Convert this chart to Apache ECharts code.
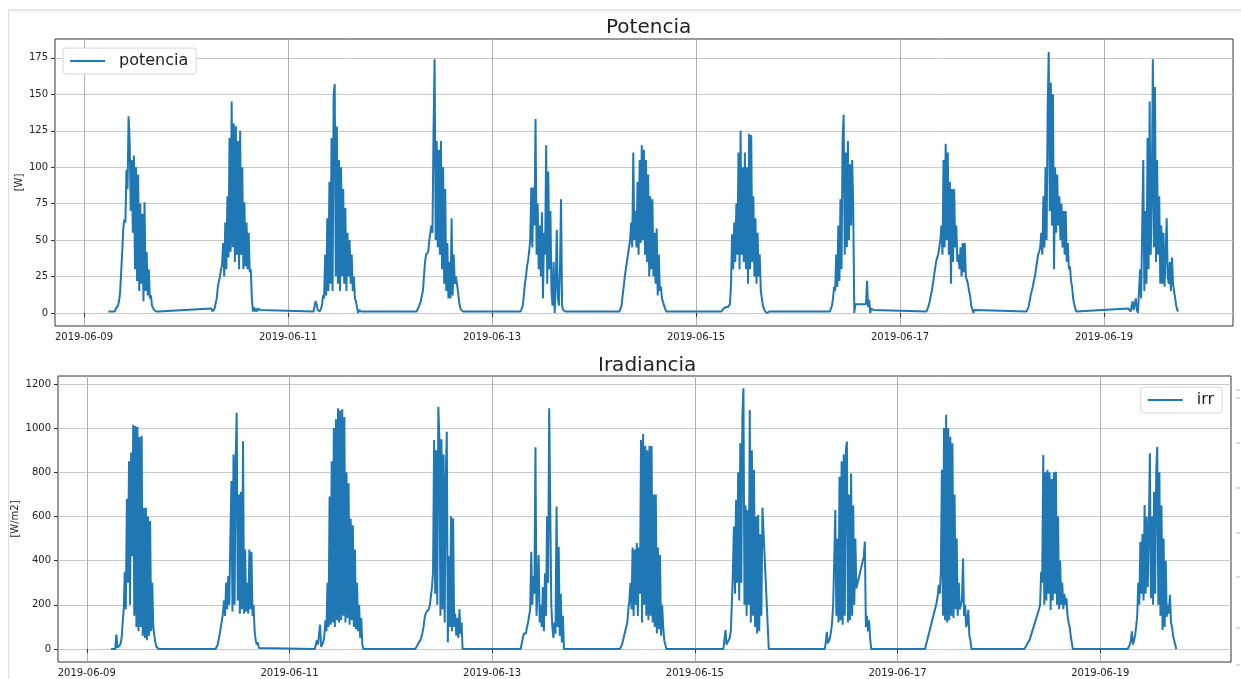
<!DOCTYPE html>
<html>
<head>
<meta charset="utf-8">
<script src="https://cdn.jsdelivr.net/npm/echarts@6/dist/echarts.min.js"></script>
<style>
html, body { margin: 0; padding: 0; background: #fff; }
#marco { position: absolute; left: 8px; top: 9px; width: 1233px; height: 670px;
  border-left: 1px solid #d3e3f2; box-shadow: inset 0 3px 3px -1px rgba(0,0,0,0.12); }
#chart { position: absolute; left: 0; top: 0; width: 1241px; height: 679px; }
</style>
</head>
<body>
<div id="marco"></div>
<div id="chart"></div>
<script>
// dias del registro y etiquetas del eje x
const fechas = ['2019-06-09','2019-06-10','2019-06-11','2019-06-12','2019-06-13','2019-06-14',
                '2019-06-15','2019-06-16','2019-06-17','2019-06-18','2019-06-19'];
const etiquetasX = ['2019-06-09','2019-06-11','2019-06-13','2019-06-15','2019-06-17','2019-06-19'];
const ticksPot = [0, 25, 50, 75, 100, 125, 150, 175];
const ticksIrr = [0, 200, 400, 600, 800, 1000, 1200];

// muestras cada 15 min; hora de la primera muestra de cada dia
const paso = 0.25;
const potInicio = [5.75, 6.0, 6.0, 6.25, 5.75, 6.0, 6.0, 6.0, 6.25, 5.75, 5.75];
const irrInicio = [5.75, 6.5, 6.0, 5.75, 6.75, 6.25, 6.75, 6.75, 6.5, 6.0, 6.5];

// potencia [W] (null = sin dato)
const pot09 = [1,1,1,1,1,2,1,3,4,5,8,14,28,42,58,64,62,98,85,135,118,70,105,55,108,30,100,22,95,15,75,20,68,8,76,15,42,12,30,10,12,5,4,2,1,1,1,1];
const pot10 = [3,1,0,3,7,10,18,22,25,30,33,48,25,62,30,80,38,120,42,145,45,130,35,128,40,118,30,125,40,100,30,76,32,62,30,55,28,30,10,1,4,1,3,1,3,3,2,2];
const pot11 = [1,2,8,6,2,1,1,1,5,12,10,40,12,65,15,90,20,120,15,150,157,25,128,20,105,15,100,25,85,20,72,15,55,25,50,20,40,15,25,10,8,4,0,2,1,1,1];
const pot12 = [1,2,4,5,8,12,15,25,35,40,41,42,50,55,60,55,125,174,50,118,45,112,40,118,30,100,20,85,15,48,10,35,10,65,12,40,20,25,20,15,8,4,2,1,1,1];
const pot13 = [1,1,1,1,1,1,5,12,20,25,32,36,42,50,86,45,86,60,133,40,75,30,60,25,69,10,55,40,115,20,97,30,70,15,5,35,0,20,57,10,5,30,78,5,2,1,1];
const pot14 = [1,3,5,12,18,25,30,35,40,45,50,62,45,110,50,70,45,90,40,105,48,115,50,112,40,105,35,95,25,80,30,78,25,55,20,58,12,40,15,18,10,10,5,3,1,1,1];
const pot15 = [1,1,3,3,4,5,4,5,6,20,54,30,62,35,75,40,110,30,125,40,100,35,110,30,100,20,123,30,122,35,80,25,65,20,55,25,40,15,10,5,3,1,1,0,1,1,1];
const pot16 = [1,2,1,1,1,1,1,3,5,10,18,15,40,18,60,22,78,30,120,136,40,110,45,118,50,102,60,105,73,0,6,null,null,null,null,null,null,null,null,null,6,22,4,9,0,3,3,2];
const pot17 = [1,2,5,8,12,15,20,25,30,35,38,40,45,50,60,40,105,45,116,50,110,40,90,20,85,35,85,45,60,35,40,30,45,25,48,28,48,25,25,20,15,12,5,3,0,2,1];
const pot18 = [1,2,4,8,12,15,18,22,25,30,35,40,42,45,55,40,80,45,100,50,140,179,70,158,60,150,30,100,55,95,60,80,50,75,45,70,40,70,35,48,30,32,22,18,10,6,3,1];
const pot19 = [3,2,1,1,8,2,3,10,2,0,15,30,10,60,105,15,70,20,120,30,145,40,80,174,45,155,35,105,40,80,20,60,20,55,18,40,65,25,20,35,15,38,20,15,10,5,2,1];

// irradiancia [W/m2]
const irr09 = [0,0,0,0,0,65,5,8,15,25,50,120,180,350,180,680,300,850,200,890,420,1015,150,1010,100,1005,80,960,100,965,60,640,50,640,40,600,60,580,80,300,100,60,30,10,3,0,0];
const irr10 = [0,0,20,45,70,100,130,160,220,150,300,180,330,200,500,760,170,880,200,850,1070,220,700,160,712,180,940,160,450,170,300,160,450,180,440,150,200,80,40,20,30,5,0];
const irr11 = [0,0,40,20,15,110,10,20,30,60,130,80,300,100,690,110,850,120,1000,100,1040,130,1090,120,1080,130,1085,150,1050,120,800,140,750,110,590,130,560,100,450,90,300,80,200,50,140,20,0];
const irr12 = [0,5,15,25,30,40,55,75,100,140,160,170,175,180,200,240,280,350,946,250,900,200,1097,950,150,950,180,880,120,760,984,30,420,100,600,80,592,100,160,60,140,50,180,70,120,0];
const irr13 = [0,0,50,70,70,70,100,120,150,180,440,200,330,250,913,150,275,425,120,200,100,280,80,342,150,600,300,1090,645,200,100,50,120,70,645,100,463,60,250,30,150,0];
const irr14 = [0,10,20,40,60,80,100,120,180,220,300,180,460,150,450,200,480,150,460,250,946,120,973,200,920,150,900,130,920,150,919,120,700,100,700,70,460,90,425,60,200,100,40,20,0];
const irr15 = [0,0,86,20,30,40,50,80,200,350,554,250,675,300,800,220,931,300,1052,1180,200,650,150,629,200,1082,120,900,150,811,100,600,70,607,80,520,150,640,null,null,null,null,null,0];
const irr16 = [0,30,78,25,30,50,80,120,200,400,629,150,500,120,780,130,850,110,880,150,900,939,120,700,130,795,150,650,200,500,275,null,null,null,null,null,null,418,486,100,150,80,130,50,0];
const irr17 = [0,5,null,null,null,null,null,null,null,null,190,210,240,290,250,350,811,150,1000,130,1060,120,1000,130,961,150,931,140,700,180,500,150,300,180,200,220,410,150,200,100,120,177,60,40,0];
const irr18 = [0,0,15,25,30,40,null,null,null,null,null,null,null,null,180,200,350,300,878,200,800,220,811,250,800,177,770,220,800,250,803,200,600,180,400,200,300,180,250,200,230,150,120,100,60,30,0];
const irr19 = [0,0,20,40,80,20,40,60,100,150,300,200,486,250,520,220,652,250,600,280,540,886,230,600,200,712,250,800,916,200,800,150,650,86,500,100,400,146,200,160,245,120,100,60,40,20,0];

const potDias = [pot09, pot10, pot11, pot12, pot13, pot14, pot15, pot16, pot17, pot18, pot19];
const irrDias = [irr09, irr10, irr11, irr12, irr13, irr14, irr15, irr16, irr17, irr18, irr19];

const DIA = 86400000;
const t0 = Date.parse('2019-06-09T00:00:00Z');
const fuente = 'DejaVu Sans';

function serie(dias, inicios) {
    const out = [];
    dias.forEach((vals, k) => {
        const base = Date.parse(fechas[k] + 'T00:00:00Z');
        vals.forEach((v, i) => {
            if (v === null) return;
            out.push([base + (inicios[k] + i * paso) * 3600000, v]);
        });
    });
    return out;
}

const ticksX = etiquetasX.map(f => Date.parse(f + 'T00:00:00Z'));

const ejeX = (grid, hasta) => ({
    type: 'value',
    gridIndex: grid,
    min: t0 - 0.284 * DIA,
    max: t0 + hasta * DIA,
    axisLine: {show: false},
    axisTick: {show: true, length: 4, customValues: ticksX, lineStyle: {color: '#333'}},
    axisLabel: {
        customValues: ticksX, margin: 6, fontSize: 10, color: '#222', fontFamily: fuente,
        formatter: v => new Date(v).toISOString().slice(0, 10)
    },
    splitLine: {show: true, lineStyle: {color: '#b0b0b0', width: 1}}
});

const ejeY = (grid, min, max, ticks, nombre, gap) => ({
    type: 'value',
    gridIndex: grid,
    min: min,
    max: max,
    name: nombre,
    nameLocation: 'middle',
    nameGap: gap,
    nameRotate: 90,
    nameMoveOverlap: false,
    nameTextStyle: {fontSize: 10, color: '#222', fontFamily: fuente},
    axisLine: {show: false},
    axisTick: {show: true, length: 4, customValues: ticks, lineStyle: {color: '#333'}},
    axisLabel: {customValues: ticks, margin: 7, fontSize: 10, color: '#222', fontFamily: fuente,
        formatter: v => String(v)},
    splitLine: {show: true, lineStyle: {color: '#c8c8c8', width: 1}}
});

const leyenda = (nombre, pos) => Object.assign({
    data: [nombre],
    icon: 'rect',
    itemWidth: 35,
    itemHeight: 2,
    padding: [5, 8, 5, 7],
    backgroundColor: '#fff',
    borderColor: '#d6d6d6',
    borderWidth: 1,
    borderRadius: 3,
    textStyle: {fontSize: 16, color: '#222', fontFamily: fuente, padding: [0, 0, 0, 9]}
}, pos);

const lineaSerie = (nombre, idx, datos) => ({
    name: nombre,
    type: 'line',
    xAxisIndex: idx,
    yAxisIndex: idx,
    data: datos,
    showSymbol: false,
    lineStyle: {width: 2, color: '#1f77b4'},
    itemStyle: {color: '#1f77b4'},
    animation: false
});

const chart = echarts.init(document.getElementById('chart'));
chart.setOption({
    animation: false,
    title: [
        {text: 'Potencia', left: 601, top: 13, textStyle: {fontSize: 20, fontWeight: 'normal', color: '#222', fontFamily: fuente}},
        {text: 'Iradiancia', left: 593, top: 351, textStyle: {fontSize: 20, fontWeight: 'normal', color: '#222', fontFamily: fuente}}
    ],
    legend: [
        leyenda('potencia', {left: 63, top: 48}),
        leyenda('irr', {right: 19, top: 387})
    ],
    grid: [
        {left: 55, right: 8, top: 39, height: 287, outerBoundsMode: 'none', show: true, borderColor: '#333', borderWidth: 1, backgroundColor: 'transparent'},
        {left: 58, right: 10, top: 376, height: 286, outerBoundsMode: 'none', show: true, borderColor: '#333', borderWidth: 1, backgroundColor: 'transparent'}
    ],
    xAxis: [ejeX(0, 11.265), ejeX(1, 11.29)],
    yAxis: [
        ejeY(0, -8.95, 187.95, ticksPot, '[W]', 31),
        ejeY(1, -58.9, 1236, ticksIrr, '[W/m2]', 38)
    ],
    graphic: [390, 398, 443, 488, 533, 577, 628, 665].map(y => ({
        type: 'line', shape: {x1: 1236, y1: y, x2: 1240, y2: y}, style: {stroke: '#b5b5b5', lineWidth: 1}
    })),
    series: [
        lineaSerie('potencia', 0, serie(potDias, potInicio)),
        lineaSerie('irr', 1, serie(irrDias, irrInicio))
    ]
});
</script>
</body>
</html>
